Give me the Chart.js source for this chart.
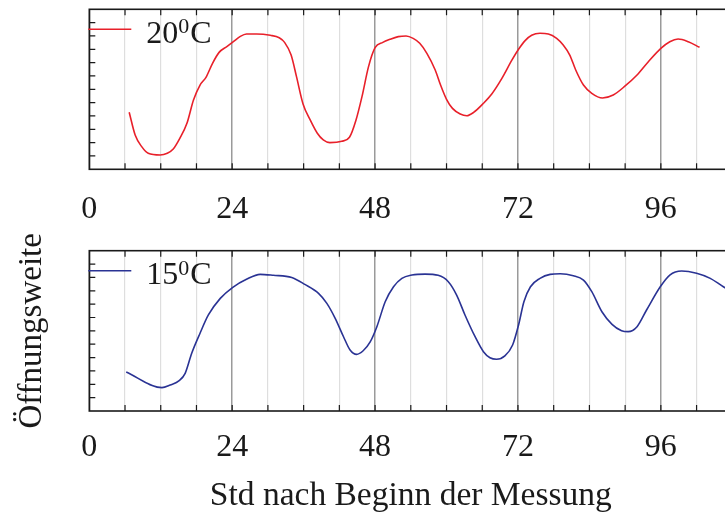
<!DOCTYPE html>
<html>
<head>
<meta charset="utf-8">
<script src="https://cdn.jsdelivr.net/npm/chart.js@4.4.1/dist/chart.umd.min.js"></script>
<style>
  html, body { margin: 0; padding: 0; background: #fff; }
  #wrap { position: relative; width: 725px; height: 512px; overflow: hidden; }
  #wrap canvas { position: absolute; left: 0; }
  #warm { top: 0; }
  #cool { top: 225px; }
</style>
</head>
<body>
<div id="wrap">
  <canvas id="warm" width="740" height="225"></canvas>
  <canvas id="cool" width="740" height="292"></canvas>
</div>
<script>
// Öffnungsweite über die Zeit, zwei Temperaturen
const hoursWarm = [6.7, 7.7, 8.8, 9.9, 11.9, 13.1, 14.1, 15.2, 16.4, 17.5, 18.6, 19.6, 20.7, 21.8, 23.1, 24.2,
  25.3, 26.4, 28.1, 30.4, 31.9, 32.8, 33.9, 34.8, 35.9, 37.1, 38.3, 39.3, 40.4, 42.4, 43.7, 44.8, 45.8, 46.9,
  48.0, 49.3, 50.5, 51.9, 53.2, 54.4, 55.5, 56.7, 58.1, 59.0, 60.0, 61.0, 62.3, 63.4, 64.5, 66.2, 67.6, 69.3,
  71.0, 72.1, 73.2, 74.3, 75.7, 77.1, 78.5, 79.6, 80.7, 81.7, 83.0, 84.4, 86.2, 88.0, 90.0, 92.0, 93.9, 96.0,
  97.5, 98.9, 100.6, 102.5];
const openingWarm = [4.28, 2.57, 1.70, 1.20, 1.07, 1.20, 1.52, 2.32, 3.45, 5.20, 6.32, 6.90, 7.95, 8.77, 9.20, 9.57,
  9.95, 10.15, 10.15, 10.05, 9.87, 9.52, 8.57, 6.95, 4.90, 3.70, 2.70, 2.20, 2.00, 2.10, 2.40, 3.70, 5.45, 7.70,
  9.12, 9.52, 9.75, 9.95, 10.00, 9.82, 9.45, 8.70, 7.45, 6.32, 5.25, 4.57, 4.15, 4.02, 4.25, 4.95, 5.65, 6.82,
  8.20, 9.00, 9.65, 10.05, 10.20, 10.15, 9.82, 9.32, 8.57, 7.45, 6.32, 5.70, 5.35, 5.57, 6.25, 7.07, 8.07, 9.07,
  9.57, 9.77, 9.57, 9.15];

const hoursCool = [6.2, 12.2, 13.6, 15.1, 16.1, 17.2, 18.6, 20.0, 22.0, 24.1, 26.4, 28.7, 30.9, 34.0, 36.2, 38.5,
  39.9, 41.3, 42.7, 43.8, 44.9, 46.0, 47.2, 48.3, 49.7, 51.1, 52.5, 54.2, 56.4, 58.6, 60.3, 61.7, 63.1, 64.8,
  66.2, 67.3, 68.4, 69.8, 71.1, 72.1, 73.0, 74.1, 75.7, 77.4, 79.1, 81.3, 83.0, 84.4, 86.1, 87.8, 89.4, 90.5,
  92.0, 93.6, 95.9, 97.5, 99.5, 102.0, 104.3, 106.5, 107.5];
const openingCool = [2.92, 1.75, 1.95, 2.27, 2.82, 4.32, 5.82, 7.19, 8.43, 9.26, 9.86, 10.23, 10.16, 10.00, 9.48, 8.81,
  8.06, 6.94, 5.56, 4.57, 4.24, 4.51, 5.19, 6.31, 8.18, 9.30, 9.93, 10.18, 10.25, 10.16, 9.68, 8.68, 7.19, 5.56,
  4.44, 3.99, 3.87, 4.12, 4.94, 6.44, 8.18, 9.30, 9.93, 10.23, 10.28, 10.13, 9.80, 8.93, 7.43, 6.49, 6.01, 5.94,
  6.31, 7.56, 9.30, 10.18, 10.48, 10.31, 9.93, 9.30, 9.05];

const hourTicks = 6;      // Teilstriche alle 6 Std
const hourLabels = 24;    // beschriftet jeden Tag
const hourMax = 108;
const openingMax = 12;

const serif = '"Liberation Serif", "Times New Roman", serif';
const ink = "#1a1a1a";

// Rahmen, Teilstriche nach innen und Legende im Plotbereich
const framePlugin = {
  id: "frame",
  afterDatasetsDraw(chart) {
    const { ctx, chartArea: a, scales } = chart;
    ctx.save();
    ctx.strokeStyle = ink;
    ctx.lineWidth = 1.2;
    ctx.beginPath();
    for (let h = hourTicks; h < hourMax; h += hourTicks) {
      const x = scales.x.getPixelForValue(h);
      ctx.moveTo(x, a.top); ctx.lineTo(x, a.top + 6);
      ctx.moveTo(x, a.bottom); ctx.lineTo(x, a.bottom - 6);
    }
    for (let v = 1; v < openingMax; v++) {
      const y = scales.y.getPixelForValue(v);
      ctx.moveTo(a.left, y); ctx.lineTo(a.left + 6, y);
    }
    ctx.stroke();
    ctx.lineWidth = 1.6;
    ctx.strokeRect(a.left, a.top, a.right - a.left, a.bottom - a.top);

    // Legende
    const ds = chart.data.datasets[0];
    const ly = a.top + 20;
    ctx.strokeStyle = ds.borderColor;
    ctx.lineWidth = 1.5;
    ctx.beginPath();
    ctx.moveTo(a.left - 1, ly);
    ctx.lineTo(a.left + 42, ly);
    ctx.stroke();

    const [num, unit] = ds.label.split("⁰");
    const base = a.top + 33.5;
    let x = a.left + 57;
    ctx.fillStyle = ink;
    ctx.textBaseline = "alphabetic";
    ctx.font = "32px " + serif;
    ctx.fillText(num, x, base);
    x += ctx.measureText(num).width;
    ctx.font = "22px " + serif;
    ctx.fillText("0", x, base - 9.5);
    x += ctx.measureText("0").width + 1;
    ctx.font = "32px " + serif;
    ctx.fillText(unit, x, base);
    ctx.restore();
  },
};

function makePanel(id, hours, values, label, color, layout) {
  const ctx = document.getElementById(id).getContext("2d");
  return new Chart(ctx, {
    type: "line",
    data: {
      datasets: [
        {
          label: label,
          data: hours.map((h, i) => ({ x: h, y: values[i] })),
          borderColor: color,
          borderWidth: 1.6,
          pointRadius: 0,
          cubicInterpolationMode: "monotone",
          fill: false,
        },
      ],
    },
    options: {
      responsive: false,
      animation: false,
      events: [],
      layout: { padding: { top: layout.top, left: 0, right: 7.7, bottom: 0 } },
      plugins: { legend: { display: false }, tooltip: { enabled: false } },
      scales: {
        x: {
          type: "linear",
          min: 0,
          max: hourMax,
          afterFit: (s) => {
            s.height = layout.axisHeight;
            s.paddingLeft = 0;
            s.paddingRight = 0;
          },
          border: { display: false },
          grid: {
            drawTicks: false,
            color: (c) => (c.tick.value % hourLabels === 0 ? "#9a9a9a" : "#dedede"),
            lineWidth: (c) => (c.tick.value % hourLabels === 0 ? 1.5 : 1.2),
          },
          ticks: {
            stepSize: hourTicks,
            autoSkip: false,
            maxRotation: 0,
            padding: layout.labelPad,
            color: ink,
            font: { family: serif, size: 32 },
            callback: (v) => (v % hourLabels === 0 ? v : ""),
          },
          title: {
            display: !!layout.xTitle,
            text: layout.xTitle || "",
            color: ink,
            font: { family: serif, size: 33.5 },
            padding: { top: 0, bottom: 1 },
          },
        },
        y: {
          min: 0,
          max: openingMax,
          afterFit: (s) => { s.width = 89.3; },
          border: { display: false },
          grid: { display: false },
          ticks: { display: false, stepSize: 1 },
          title: {
            display: !!layout.yTitle,
            text: layout.yTitle || "",
            color: ink,
            font: { family: serif, size: 33 },
            padding: { top: 13, bottom: 0 },
          },
        },
      },
    },
    plugins: [framePlugin],
  });
}

const warmChart = makePanel("warm", hoursWarm, openingWarm, "20⁰C", "#e8202a",
  { top: 9.3, axisHeight: 55.7, labelPad: 21 });

const coolChart = makePanel("cool", hoursCool, openingCool, "15⁰C", "#2a3394",
  { top: 25.7, axisHeight: 106, labelPad: 17, xTitle: "Std nach Beginn der Messung", yTitle: "Öffnungsweite" });
</script>
</body>
</html>
